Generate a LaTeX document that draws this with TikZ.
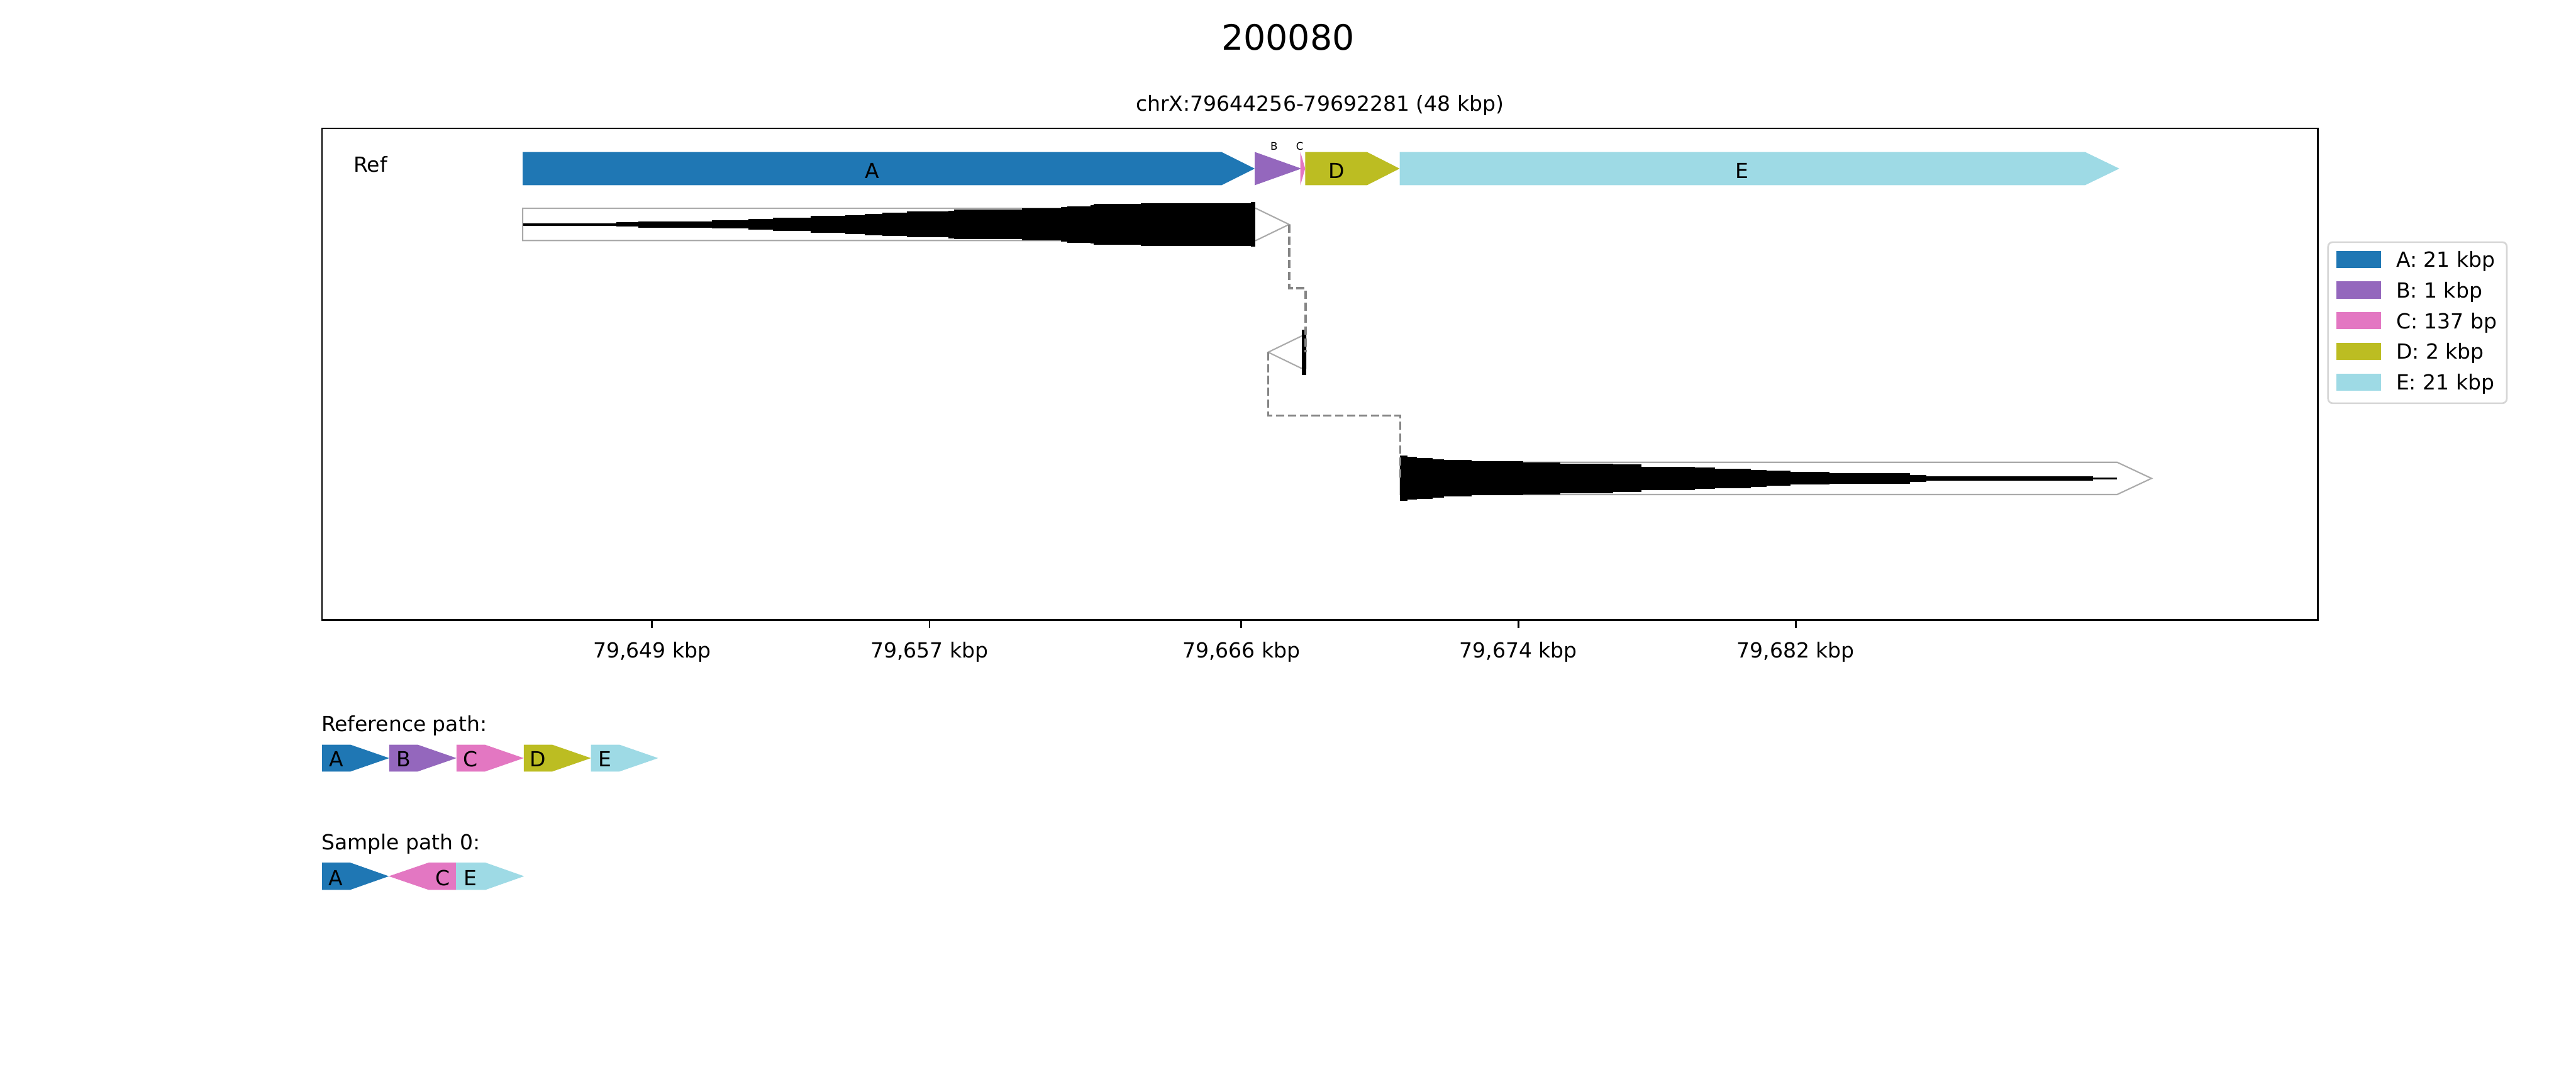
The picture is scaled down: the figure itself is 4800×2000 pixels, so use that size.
\documentclass[tikz,border=0pt]{standalone}
\usepackage{fontspec}
\setmainfont{DejaVu Sans}
\usetikzlibrary{calc}
\definecolor{segA}{HTML}{1F77B4}
\definecolor{segB}{HTML}{9467BD}
\definecolor{segC}{HTML}{E377C2}
\definecolor{segD}{HTML}{BCBD22}
\definecolor{segE}{HTML}{9EDAE5}
\definecolor{outl}{HTML}{AAAAAA}
\definecolor{conngray}{HTML}{858585}
\definecolor{legedge}{HTML}{D6D6D6}
\newcommand\mainfs{\fontsize{9.3}{11}\selectfont}
\newcommand\smallfs{\fontsize{4.7}{5.5}\selectfont}
\newcommand\titlefs{\fontsize{15.6}{18}\selectfont}
% forward arrow: x0, x1(tip), yc, half height, head length, colour
\newcommand\fwdarr[6]{\fill[#6] (#1,{#3-#4}) -- ({#2-#5},{#3-#4}) -- (#2,#3) -- ({#2-#5},{#3+#4}) -- (#1,{#3+#4}) -- cycle;}
\begin{document}
\begin{tikzpicture}[x=0.24pt,y=-0.24pt,
  lbl/.style={inner sep=0pt, anchor=base, font=\mainfs},
  smalllbl/.style={inner sep=0pt, anchor=base, font=\smallfs},
  outline/.style={draw=outl, line width=0.6pt, line join=miter},
  frame/.style={draw=black, line width=0.8pt},
  conn/.style={draw=conngray, line width=1pt, dash pattern=on 3.7pt off 1.6pt},
  cov/.style={fill=black}]
\useasboundingbox (0,0) rectangle (4800,2000);

% titles
\node[inner sep=0pt, anchor=base, font=\titlefs] (title) at (2400,93) {200080};
\node[lbl] (subtitle) at (2459.5,207) {chrX:79644256-79692281 (48 kbp)};

% axes frame and ticks
\draw[frame] (600,239) rectangle (4319,1155);
\foreach \x/\t in {1215/649, 1732/657, 2313/666, 2829/674, 3346/682} {
  \draw[line width=0.8pt] (\x,1155) -- (\x,1170);
  \node[lbl] (tick\t) at (\x,1225) {79,\t\ kbp};
}

% reference row
\node[lbl, anchor=base west] (reflbl) at (658,320) {Ref};
\fwdarr{974}{2338}{314}{31}{62}{segA}
\fill[segB] (2338,283) -- (2425,314) -- (2338,345) -- cycle;
\fill[segC] (2423,283) -- (2432,314) -- (2423,345) -- cycle;
\fwdarr{2432}{2608}{314}{31}{61}{segD}
\fwdarr{2608}{3949}{314}{31}{64}{segE}
\node[lbl] (labA) at (1625.5,332) {A};
\node[lbl] (labD) at (2490,332) {D};
\node[lbl] (labE) at (3246,332) {E};
\node[smalllbl] (labB) at (2374,279) {B};
\node[smalllbl] (labC) at (2422,279) {C};

% track 1 (forward, A)
\draw[outline] (974,388) -- (2340,388) -- (2402,418) -- (2340,448) -- (974,448) -- cycle;
\foreach \a/\b/\h in {975/1148/2.2, 1148/1190/4, 1190/1327/5.8, 1327/1394/7.8, 1394/1440/9.8,
  1440/1511/12, 1511/1575/15.7, 1575/1611/17.8, 1611/1644/19.8, 1644/1690/21.5, 1690/1767/24,
  1767/1778/26, 1778/1904/27.8, 1904/1977/30, 1977/1989/32, 1989/2032/34, 2032/2038/36,
  2038/2126/37.8, 2126/2331/39.8, 2331/2339/41.7}
  \fill[cov] (\a,{418-\h}) rectangle (\b,{418+\h});

% track 2 (reverse, C)
\draw[outline] (2433,626) -- (2425,626) -- (2363,656) -- (2425,686) -- (2433,686) -- cycle;
\fill[cov] (2426,614) rectangle (2434,698);

% track 3 (forward, E)
\draw[outline] (2609,861) -- (3945,861) -- (4009,891) -- (3945,921) -- (2609,921) -- cycle;
\foreach \a/\b/\h in {2609/2623/42, 2623/2640.5/39.7, 2640.5/2669/37.7, 2669/2690/35.7,
  2690/2742/33.8, 2742/2838/31.8, 2838/2907/29.8, 2907/3006/27.8, 3006/3058/25.8,
  3058/3158/21.7, 3158/3196/19.8, 3196/3262/17.8, 3262/3292/15.8, 3292/3336/13.9,
  3336/3409/11.8, 3409/3559/9.8, 3559/3589/6.5, 3589/3900/4, 3900/3945/2}
  \fill[cov] (\a,{891-\h}) rectangle (\b,{891+\h});

% connectors
\coordinate (t1tip) at (2402,418);
\coordinate (t2back) at (2433,656);
\coordinate (t2tip) at (2363,656);
\coordinate (t3start) at (2609,891);
\coordinate (m1) at (2402,537);
\coordinate (m2) at (2363,774);
\draw[conn] (t1tip) -- (m1) -| (t2back);
\draw[conn] (t2tip) -- (m2) -| (t3start);

% legend
\draw[legedge, line width=0.75pt, fill=white, rounded corners=2pt] (4338,451) rectangle (4671,751);
\foreach \c/\t [count=\i from 0] in {segA/A: 21 kbp, segB/B: 1 kbp, segC/C: 137 bp, segD/D: 2 kbp, segE/E: 21 kbp} {
  \fill[\c] (4353,{467+57.2*\i}) rectangle (4437,{499+57.2*\i});
  \node[lbl, anchor=base west] (leg\i) at (4464,{497.7+57.1*\i}) {\t};
}

% reference path
\node[lbl, anchor=base west] (refpath) at (598,1361.7) {Reference path:};
\foreach \c/\t [count=\i from 0] in {segA/A, segB/B, segC/C, segD/D, segE/E} {
  \pgfmathsetmacro\xs{600+125.3*\i}
  \pgfmathsetmacro\xe{725.3+125.3*\i}
  \pgfmathsetmacro\xl{626.5+125.3*\i}
  \fwdarr{\xs}{\xe}{1412}{25}{72.3}{\c}
  \node[lbl] (rp\t) at (\xl,1428.3) {\t};
}

% sample path 0
\node[lbl, anchor=base west] (sampath) at (598,1583) {Sample path 0:};
\fwdarr{600}{724.5}{1632}{25.5}{72.3}{segA}
\fill[segC] (849.6,1606.5) -- (799,1606.5) -- (724.5,1632) -- (799,1657.5) -- (849.6,1657.5) -- cycle;
\fwdarr{849.6}{976.6}{1632}{25.5}{72.3}{segE}
\node[lbl] (spA) at (626,1649) {A};
\node[lbl] (spC) at (825.5,1649) {C};
\node[lbl] (spE) at (876.5,1649) {E};
\end{tikzpicture}
\end{document}
